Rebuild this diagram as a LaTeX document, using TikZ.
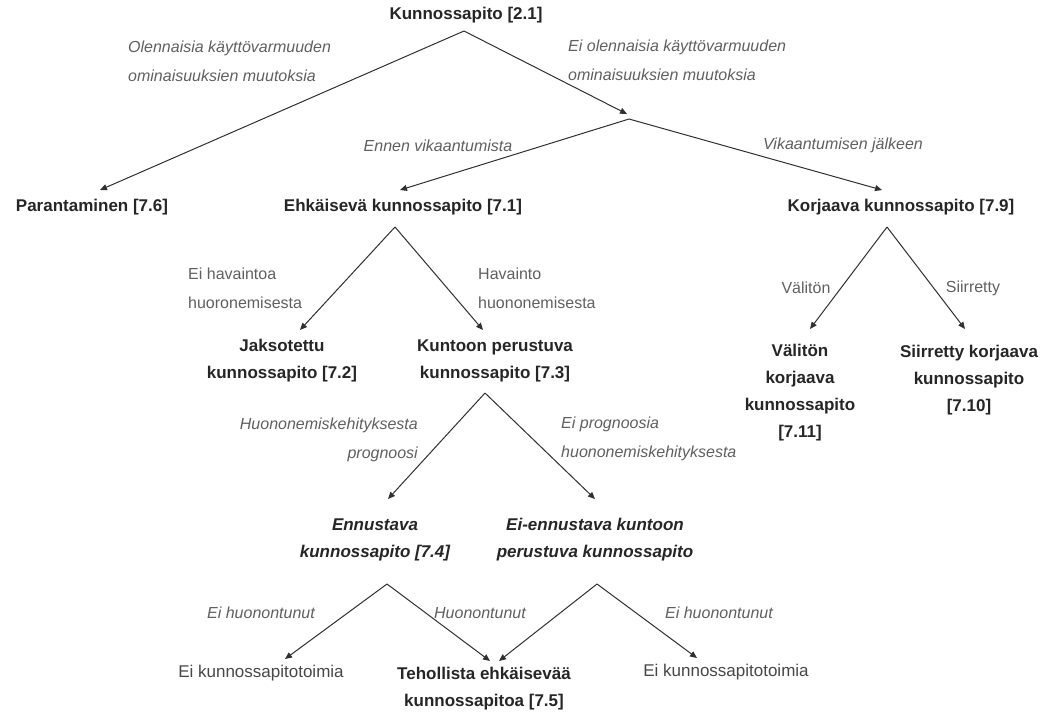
\documentclass[tikz,border=0pt]{standalone}
\usepackage{fontspec}
\setmainfont{Liberation Sans}
\usetikzlibrary{arrows.meta}
\definecolor{lbl}{HTML}{606060}
\definecolor{ink}{HTML}{262626}
\definecolor{lin}{HTML}{303030}
\tikzset{
  mainnode/.style={inner sep=0pt, align=center, font=\fontsize{17}{27}\selectfont\bfseries, text=ink},
  itnode/.style={inner sep=0pt, align=center, font=\fontsize{17}{27}\selectfont\bfseries\itshape, text=ink},
  plainnode/.style={inner sep=0pt, align=center, font=\fontsize{17}{27}\selectfont, text=ink!85},
  itlabel/.style={inner sep=0pt, font=\fontsize{16}{29}\selectfont\itshape, text=lbl},
  uplabel/.style={inner sep=0pt, font=\fontsize{16}{29}\selectfont, text=lbl},
  conn/.style={draw=lin, line width=1pt, -{Triangle[length=7pt,width=6pt]}}
}
\begin{document}
\begin{tikzpicture}[x=1pt,y=-1pt]
\useasboundingbox[fill=white] (0,0) rectangle (1049,713);

% nodes
\node[mainnode] (top) at (466,15) {Kunnossapito [2.1]};
\node[mainnode] (par) at (92,207) {Parantaminen [7.6]};
\node[mainnode] (ehk) at (403,207) {Ehkäisevä kunnossapito [7.1]};
\node[mainnode] (kor) at (901,207) {Korjaava kunnossapito [7.9]};
\node[mainnode] (jak) at (282,361) {Jaksotettu\\kunnossapito [7.2]};
\node[mainnode] (kun) at (495,361) {Kuntoon perustuva\\kunnossapito [7.3]};
\node[mainnode] (val) at (800,393) {Välitön\\korjaava\\kunnossapito\\{}[7.11]};
\node[mainnode] (sii) at (969,380) {Siirretty korjaava\\kunnossapito\\{}[7.10]};
\node[itnode] (enn) at (375,540) {Ennustava\\kunnossapito [7.4]};
\node[itnode] (eie) at (595,540) {Ei-ennustava kuntoon\\perustuva kunnossapito};
\node[plainnode] (ek1) at (261,673) {Ei kunnossapitotoimia};
\node[mainnode] (teh) at (484,689) {Tehollista ehkäisevää\\kunnossapitoa [7.5]};
\node[plainnode] (ek2) at (726,672) {Ei kunnossapitotoimia};

% branch points and arrow ends
\coordinate (a0) at (464,31);
\coordinate (a1) at (629,119);
\coordinate (a2) at (395,227);
\coordinate (a3) at (887,227);
\coordinate (a4) at (485,393);
\coordinate (a5) at (387,584);
\coordinate (a6) at (597,584);
\coordinate (tpar) at (100,190);
\coordinate (tmid) at (627,114);
\coordinate (tehk) at (400,190);
\coordinate (tkor) at (882,190);
\coordinate (tjak) at (300,330);
\coordinate (tkun) at (483,330);
\coordinate (tval) at (810,329);
\coordinate (tsii) at (965,329);
\coordinate (tenn) at (388,499);
\coordinate (teie) at (595,499);
\coordinate (tek1) at (285,659);
\coordinate (tteh1) at (490,661);
\coordinate (tteh2) at (499,661);
\coordinate (tek2) at (697,658);

% connectors
\draw[conn] (a0) -- (tpar);
\draw[conn] (a0) -- (tmid);
\draw[conn] (a1) -- (tehk);
\draw[conn] (a1) -- (tkor);
\draw[conn] (a2) -- (tjak);
\draw[conn] (a2) -- (tkun);
\draw[conn] (a3) -- (tval);
\draw[conn] (a3) -- (tsii);
\draw[conn] (a4) -- (tenn);
\draw[conn] (a4) -- (teie);
\draw[conn] (a5) -- (tek1);
\draw[conn] (a5) -- (tteh1);
\draw[conn] (a6) -- (tteh2);
\draw[conn] (a6) -- (tek2);

% labels
\node[itlabel, anchor=west, align=left] (l1) at (128,61) {Olennaisia käyttövarmuuden\\ominaisuuksien muutoksia};
\node[itlabel, anchor=west, align=left] (l2) at (568,60) {Ei olennaisia käyttövarmuuden\\ominaisuuksien muutoksia};
\node[itlabel] (l3) at (438,146) {Ennen vikaantumista};
\node[itlabel] (l4) at (843,145) {Vikaantumisen jälkeen};
\node[uplabel, anchor=west, align=left] (l5) at (188,288) {Ei havaintoa\\huoronemisesta};
\node[uplabel, anchor=west, align=left] (l6) at (478,288) {Havainto\\huononemisesta};
\node[uplabel] (l7) at (806,288) {Välitön};
\node[uplabel] (l8) at (973,288) {Siirretty};
\node[itlabel, anchor=east, align=right] (l9) at (418,440) {Huononemiskehityksesta\\prognoosi};
\node[itlabel, anchor=west, align=left] (l10) at (561,439) {Ei prognoosia\\huononemiskehityksesta};
\node[itlabel] (l11) at (261,613) {Ei huonontunut};
\node[itlabel] (l12) at (480,613) {Huonontunut};
\node[itlabel] (l13) at (719,613) {Ei huonontunut};
\end{tikzpicture}
\end{document}
